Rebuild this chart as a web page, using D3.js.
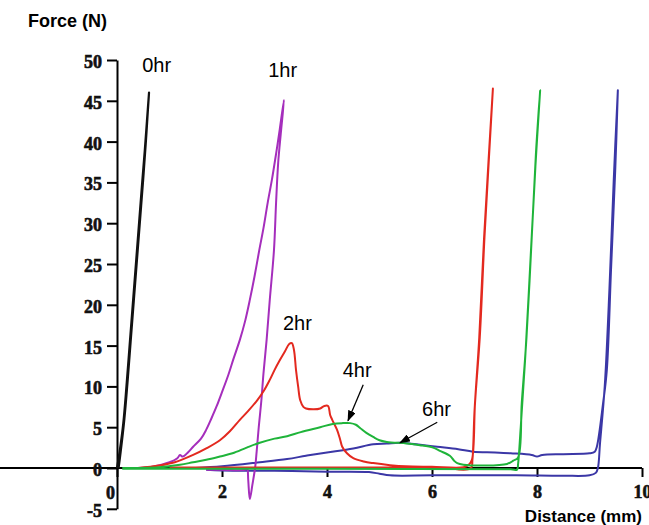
<!DOCTYPE html>
<html>
<head>
<meta charset="utf-8">
<script src="https://cdn.jsdelivr.net/npm/d3@7"></script>
<style>
    body { margin: 0; background: #fff; }
    .title { font-family: "Liberation Sans", Arial, sans-serif; font-weight: bold; }
    .series-label { font-family: "Liberation Sans", Arial, sans-serif; font-size: 20px; }
</style>
</head>
<body>
<div id="chart"></div>
<script>
// Force-distance curves, [distance mm, force N]
var hr0 = [[0, 0], [0.05, 2], [0.12, 5.5], [0.18, 10], [0.24, 15], [0.3, 20], [0.36, 25], [0.42, 30],
    [0.48, 35], [0.53, 39], [0.57, 42.5], [0.61, 46],
    [0.59, 44], [0.55, 40], [0.5, 35.5], [0.44, 30.5], [0.38, 25.5], [0.32, 20.5], [0.26, 15.5],
    [0.2, 10.5], [0.14, 6], [0.07, 2], [0.03, 0]];

var hr1 = [[0.4, 0], [0.7, 0.2], [1.0, 0.7], [1.15, 1.2], [1.2, 1.6], [1.25, 1.4], [1.35, 1.9], [1.45, 2.6],
    [1.6, 3.6], [1.7, 4.7], [1.8, 6.1], [1.9, 7.6], [2.0, 9.3], [2.12, 11.4], [2.22, 13.4], [2.34, 15.7],
    [2.44, 18], [2.53, 20.6], [2.62, 23.5], [2.71, 26.7], [2.79, 29.4], [2.87, 32.5], [2.95, 35.3],
    [3.03, 38.5], [3.1, 41.5], [3.18, 45.1],
    [3.12, 41], [3.07, 37.4], [3.03, 32.5], [2.99, 26.7], [2.91, 20.6], [2.85, 15.7], [2.79, 11.6],
    [2.75, 8.3], [2.7, 5], [2.66, 2], [2.63, 0], [2.58, -2], [2.53, -3.8], [2.5, -1.5], [2.48, 0],
    [2.45, -0.2], [2.0, -0.2], [1.7, -0.2]];

var hr2 = [[0.4, 0], [0.8, 0.3], [1.1, 0.7], [1.45, 1.6], [1.7, 2.4], [1.96, 3.4], [2.15, 4.5], [2.34, 5.9],
    [2.5, 7], [2.67, 8.3], [2.8, 9.5], [2.91, 10.8], [3.0, 12], [3.1, 13.2], [3.2, 14.3], [3.28, 15.2],
    [3.33, 15.3], [3.37, 14.5], [3.41, 12], [3.45, 10], [3.49, 8.3], [3.55, 7.5], [3.6, 7.3], [3.75, 7.2],
    [3.87, 7.3], [3.95, 7.6], [4.02, 7.6], [4.06, 6.5], [4.1, 5.9], [4.19, 4.7], [4.25, 3.5], [4.29, 2.6],
    [4.38, 1.8], [4.5, 1.2], [4.7, 0.8], [4.88, 0.6], [5.2, 0.35], [5.5, 0.2], [6.0, 0.15], [6.6, 0.1],
    [6.7, 0.4], [6.76, 1], [6.82, 8], [6.91, 16], [7.0, 28.3], [7.09, 38.6], [7.16, 46.5],
    [7.08, 38], [6.99, 28], [6.9, 16], [6.81, 7], [6.77, 1], [6.74, 0], [6.0, 0.05], [1.0, 0.05]];

var hr4 = [[0.1, 0], [0.8, 0.1], [1.2, 0.4], [1.45, 0.7], [1.7, 1.0], [1.96, 1.4], [2.2, 1.8], [2.47, 2.5],
    [2.72, 3.1], [3.0, 3.6], [3.24, 3.9], [3.5, 4.4], [3.87, 5.0], [4.11, 5.4], [4.3, 5.5], [4.44, 5.5],
    [4.55, 5.3], [4.63, 4.9], [4.75, 4.3], [4.88, 3.8], [5.0, 3.4], [5.14, 3.2], [5.52, 3.0], [5.77, 2.8],
    [6.02, 2.5], [6.15, 2.1], [6.34, 1.5], [6.42, 0.9], [6.48, 0.6], [6.6, 0.4], [7.0, 0.3], [7.43, 0.5],
    [7.55, 0.9], [7.64, 1.3], [7.71, 8], [7.8, 16], [7.9, 28.3], [7.98, 38.6], [8.06, 46.3],
    [7.97, 37], [7.88, 26], [7.78, 14], [7.69, 5], [7.64, 0.5], [7.62, -0.2], [7.5, -0.15], [0.1, -0.1]];

var hr6 = [[1.5, 0], [2.0, 0.2], [2.72, 0.7], [3.24, 1.1], [3.6, 1.5], [4.0, 1.9], [4.5, 2.4], [4.88, 2.9],
    [5.14, 3.0], [5.4, 3.1], [5.7, 2.9], [6.1, 2.6], [6.5, 2.3], [6.78, 2.0], [7.2, 1.9], [7.5, 1.8],
    [7.9, 1.6], [8.0, 1.4], [8.1, 1.6], [8.5, 1.7], [9.0, 1.8], [9.1, 2.0], [9.14, 2.6], [9.26, 8],
    [9.33, 12], [9.41, 24.3], [9.49, 36.5], [9.54, 46.3],
    [9.46, 35], [9.38, 22], [9.29, 10], [9.2, 3], [9.16, 0], [9.12, -0.6], [9.0, -0.9], [8.5, -0.95],
    [7.6, -0.9], [6.0, -0.9], [5.2, -0.9], [5.0, -0.7], [4.8, -0.5], [4.0, -0.45], [3.0, -0.35],
    [2.0, -0.3], [1.7, -0.2]];

var seriesNames = ["6hr", "1hr", "2hr", "4hr", "0hr"];
var seriesData = [hr6, hr1, hr2, hr4, hr0];
var seriesColors = ["#3b37a6", "#a52ebc", "#e3291f", "#1fb43a", "#111111"];

// label positions [x, y] in data units, arrows [fromX, fromY, toX, toY]
var labelNames = ["0hr", "1hr", "2hr", "4hr", "6hr"];
var labelPos = [[0.48, 48.5], [2.88, 47.9], [3.16, 16.9], [4.3, 11.15], [5.81, 6.37]];
var arrows = [[4.69, 10.2, 4.4, 5.8], [6.1, 5.6, 5.39, 3.1]];

var yTicks = [-5, 0, 5, 10, 15, 20, 25, 30, 35, 40, 45, 50];
var xTicks = [0, 2, 4, 6, 8, 10];

//Chart dimensions (in pixels)
var width = 649,
    height = 525;

var x = d3.scaleLinear().domain([0, 10]).range([117, 642]);
var y = d3.scaleLinear().domain([-5, 50]).range([508.8, 60]);

//Create an SVG
var svg = d3.select("#chart").append("svg")
    .attr("width", width)
    .attr("height", height);

svg.append("defs").append("marker")
    .attr("id", "arrow")
    .attr("markerUnits", "userSpaceOnUse")
    .attr("markerWidth", 11)
    .attr("markerHeight", 8)
    .attr("refX", 10)
    .attr("refY", 4)
    .attr("orient", "auto")
    .append("path")
    .attr("d", "M0,0 L11,4 L0,8 Z")
    .attr("fill", "#000");

// horizontal zero line runs to the left edge
svg.append("line")
    .attr("x1", 0)
    .attr("x2", x(10))
    .attr("y1", y(0))
    .attr("y2", y(0))
    .attr("stroke", "#000")
    .attr("stroke-width", 2);

var xAxis = d3.axisBottom(x)
    .tickValues(xTicks)
    .tickSize(9)
    .tickSizeOuter(0)
    .tickPadding(8)
    .tickFormat(String);

var gx = svg.append("g")
    .attr("transform", "translate(0," + y(0) + ")")
    .call(xAxis);
gx.select(".domain").remove();
gx.selectAll("line").attr("stroke-width", 2);
gx.selectAll("text").filter(function(d) { return d === 0; }).attr("x", -7).attr("dy", "0.75em");

var yAxis = d3.axisLeft(y)
    .tickValues(yTicks)
    .tickSize(10)
    .tickSizeOuter(0)
    .tickPadding(5)
    .tickFormat(String);

var gy = svg.append("g")
    .attr("transform", "translate(" + x(0) + ",0)")
    .call(yAxis);
gy.select(".domain").attr("stroke-width", 2);
gy.selectAll("line").attr("stroke-width", 2);
gy.selectAll("text").attr("dy", "0.42em");

// bold serif tick labels, thickened a little with a stroke
svg.selectAll(".tick text")
    .attr("fill", "#111")
    .attr("stroke", "#111")
    .attr("stroke-width", 0.6)
    .style("font-family", "'Times New Roman', 'Liberation Serif', serif")
    .style("font-weight", "700")
    .style("font-size", "18px");

// curves
var line = d3.line()
    .x(function(d) { return x(d[0]); })
    .y(function(d) { return y(d[1]); })
    .curve(d3.curveCatmullRom.alpha(0.5));

svg.append("g").selectAll("path")
    .data(seriesData)
    .enter().append("path")
    .attr("d", line)
    .attr("fill", "none")
    .attr("stroke", function(d, i) { return seriesColors[i]; })
    .attr("stroke-width", function(d, i) { return seriesNames[i] === "0hr" ? 2.2 : 2; })
    .attr("stroke-linejoin", "round");

// series labels
svg.append("g").selectAll("text")
    .data(labelNames)
    .enter().append("text")
    .attr("class", "series-label")
    .attr("x", function(d, i) { return x(labelPos[i][0]); })
    .attr("y", function(d, i) { return y(labelPos[i][1]); })
    .text(function(d) { return d; });

svg.append("g").selectAll("line")
    .data(arrows)
    .enter().append("line")
    .attr("x1", function(d) { return x(d[0]); })
    .attr("y1", function(d) { return y(d[1]); })
    .attr("x2", function(d) { return x(d[2]); })
    .attr("y2", function(d) { return y(d[3]); })
    .attr("stroke", "#000")
    .attr("stroke-width", 1.3)
    .attr("marker-end", "url(#arrow)");

// axis titles
svg.append("text")
    .attr("class", "title")
    .attr("x", 28)
    .attr("y", 27)
    .style("font-size", "18px")
    .text("Force (N)");

svg.append("text")
    .attr("class", "title")
    .attr("x", 642)
    .attr("y", 522)
    .attr("text-anchor", "end")
    .style("font-size", "17px")
    .text("Distance (mm)");
</script>
</body>
</html>
